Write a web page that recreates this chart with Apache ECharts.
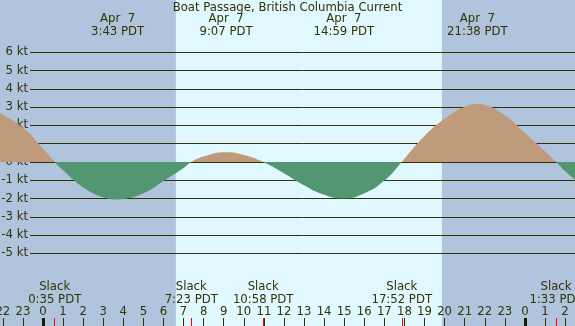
<!DOCTYPE html>
<html>
<head>
<meta charset="utf-8">
<title>Boat Passage, British Columbia Current</title>
<script src="https://cdn.jsdelivr.net/npm/echarts@6/dist/echarts.min.js"></script>
<style>
  html, body { margin: 0; padding: 0; background: #b0c4de; }
  #chart { width: 575px; height: 326px; }
</style>
</head>
<body>
<div id="chart"></div>
<script>
// current readings, hours after midnight Apr 7 (PDT) -> knots
var curveHours = [-2.14, -2, -1, 0, 0.583, 1, 2, 3, 3.717, 4, 5, 6, 7, 7.383, 8, 9.117, 10, 10.967,
  12, 13, 14, 14.983, 16, 17, 17.867, 18, 19, 20, 21, 21.633, 22, 23, 24, 25, 25.55, 26, 26.5];
var curveKnots = [2.70, 2.60, 1.88, 0.74, 0, -0.45, -1.38, -1.93, -2.05, -2.03, -1.72, -1.04, -0.33, 0, 0.30, 0.53, 0.38, 0,
  -0.62, -1.28, -1.80, -2.0, -1.72, -1.02, 0, 0.18, 1.42, 2.36, 3.02, 3.17, 3.12, 2.55, 1.58, 0.58, 0, -0.50, -0.99];

// max / min events shown on top
var eventDate = 'Apr  7';
var eventTimes = ['3:43', '9:07', '14:59', '21:38'];
// slack water shown at the bottom
var slackTimes = ['0:35', '7:23', '10:58', '17:52', '1:33'];
var slackDays = [0, 0, 0, 0, 1];
// sunrise / sunset
var sunTimes = ['6:37', '19:52'];

var hourTicks = [-2, -1, 0, 1, 2, 3, 4, 5, 6, 7, 8, 9, 10, 11, 12, 13, 14, 15, 16, 17, 18, 19, 20, 21, 22, 23, 24, 25, 26];
var midnightTicks = [0, 24];
var knotMin = -5, knotMax = 6;

var xMin = -2.141, xMax = 26.494;

var ink = '#333300';
var floodColor = '#bf9b7b';
var ebbColor = '#529672';
var font = 'DejaVu Sans';
var fs = 11.7;

function toHour (t, day) {
  var p = t.split(':');
  return +p[0] + (+p[1]) / 60 + 24 * (day || 0);
}
var eventHours = eventTimes.map(function (t) { return toHour(t); });
var slackHours = slackTimes.map(function (t, i) { return toHour(t, slackDays[i]); });

function findIdx (arr, v) {
  for (var i = 0; i < arr.length; i++) {
    if (Math.abs(arr[i] - v) < 1e-6) return i;
  }
  return -1;
}

var curve = curveHours.map(function (h, i) { return [h, curveKnots[i]]; });

var W = 575, H = 326;
var plotTop = 52.3, plotBottom = 72.7;
// split the fill colour where the knot axis crosses zero
var zeroY = plotTop + knotMax / (knotMax - knotMin) * (H - plotTop - plotBottom);
var fillGrad = new echarts.graphic.LinearGradient(0, 0, 0, H, [
  { offset: 0, color: floodColor },
  { offset: zeroY / H, color: floodColor },
  { offset: zeroY / H, color: ebbColor },
  { offset: 1, color: ebbColor }
], true);

var chart = echarts.init(document.getElementById('chart'), null, { renderer: 'canvas' });

var option = {
  backgroundColor: '#b0c4de',
  animation: false,
  title: {
    text: 'Boat Passage, British Columbia Current',
    left: 'center',
    top: 1,
    padding: 0,
    textStyle: { fontSize: fs, fontWeight: 'normal', color: ink, fontFamily: font, lineHeight: 13 }
  },
  grid: [
    { left: 0, right: 0, top: 0, bottom: 0, outerBoundsMode: 'none' },
    { left: 30, right: 0, top: plotTop, bottom: plotBottom, outerBoundsMode: 'none' },
    { left: 0, right: 0, top: plotTop, bottom: plotBottom, outerBoundsMode: 'none' }
  ],
  xAxis: [
    { // hours
      gridIndex: 0, type: 'value', position: 'bottom', min: xMin, max: xMax, z: 6,
      axisLine: { show: false },
      splitLine: { show: false },
      axisTick: { show: true, inside: true, length: 8, customValues: hourTicks, lineStyle: { color: ink, width: 1 } },
      axisLabel: {
        inside: true, margin: 7.6, customValues: hourTicks,
        color: ink, fontSize: fs, fontFamily: font, lineHeight: 13,
        formatter: function (v) { return String(((Math.round(v) % 24) + 24) % 24); }
      }
    },
    { // slack
      gridIndex: 0, type: 'value', position: 'bottom', min: xMin, max: xMax, z: 7,
      axisLine: { show: false },
      splitLine: { show: false },
      axisTick: { show: true, inside: true, length: 8, customValues: slackHours, lineStyle: { color: '#ff0000', width: 1 } },
      axisLabel: {
        inside: true, margin: 19.4, customValues: slackHours,
        color: ink, fontSize: fs, fontFamily: font, lineHeight: 13,
        formatter: function (v) {
          var i = findIdx(slackHours, v);
          return i < 0 ? '' : 'Slack\n' + slackTimes[i] + ' PDT';
        }
      }
    },
    { // midnight
      gridIndex: 0, type: 'value', position: 'bottom', min: xMin, max: xMax, z: 8,
      axisLine: { show: false },
      splitLine: { show: false },
      axisTick: { show: true, inside: true, length: 8, customValues: midnightTicks, lineStyle: { color: '#1a1a00', width: 3 } },
      axisLabel: { show: false }
    },
    { // max / min events
      gridIndex: 0, type: 'value', position: 'top', min: xMin, max: xMax, z: 6,
      axisLine: { show: false },
      splitLine: { show: false },
      axisTick: { show: false },
      axisLabel: {
        inside: true, margin: 12, customValues: eventHours,
        color: ink, fontSize: fs, fontFamily: font, lineHeight: 13,
        formatter: function (v) {
          var i = findIdx(eventHours, v);
          return i < 0 ? '' : eventDate + '\n' + eventTimes[i] + ' PDT';
        }
      }
    },
    { gridIndex: 1, type: 'value', min: 0, max: 1, show: false },
    { gridIndex: 2, type: 'value', min: xMin, max: xMax, show: false }
  ],
  yAxis: [
    { gridIndex: 0, type: 'value', min: 0, max: 1, show: false },
    {
      gridIndex: 1, type: 'value', min: knotMin, max: knotMax, interval: 1, z: 1,
      axisLine: { show: false },
      axisTick: { show: false },
      splitLine: { show: true, lineStyle: { color: ink, width: 1 } },
      axisLabel: {
        margin: 2, color: ink, fontSize: fs, fontFamily: font,
        formatter: '{value} kt'
      }
    },
    { gridIndex: 2, type: 'value', min: knotMin, max: knotMax, show: false }
  ],
  series: [
    { // day / night shading
      type: 'line',
      xAxisIndex: 0, yAxisIndex: 0,
      data: [[xMin, 0]],
      symbol: 'none',
      lineStyle: { opacity: 0 },
      silent: true,
      z: 0,
      markArea: {
        silent: true,
        z: 0,
        itemStyle: { color: '#e0f8ff', opacity: 1 },
        data: [[{ xAxis: toHour(sunTimes[0]) }, { xAxis: toHour(sunTimes[1]) }]]
      }
    },
    { // current
      type: 'line',
      xAxisIndex: 5, yAxisIndex: 2,
      data: curve,
      smooth: true,
      showSymbol: false,
      symbol: 'none',
      z: 10,
      emphasis: { disabled: true },
      lineStyle: { opacity: 0, width: 0 },
      areaStyle: { color: fillGrad, opacity: 1 }
    }
  ]
};

chart.setOption(option);
</script>
</body>
</html>
